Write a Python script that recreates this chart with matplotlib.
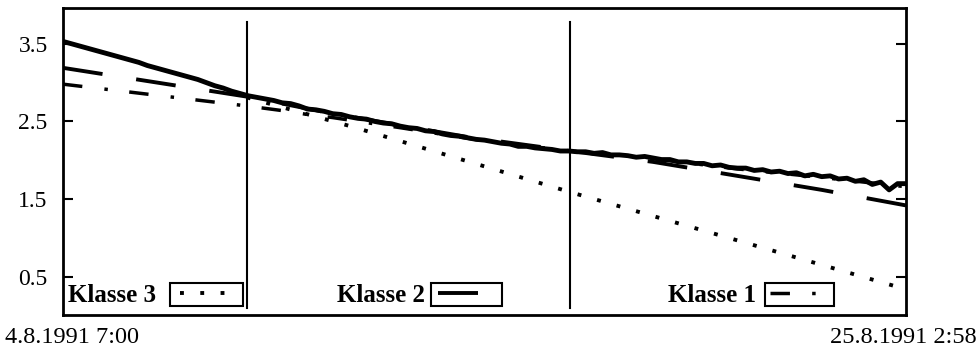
#!/usr/bin/env python3
# plot.py
# Measured curve with three class predictions (Klasse 1-3), saved to out.png

import numpy as np
import matplotlib
matplotlib.use("Agg")
import matplotlib.pyplot as plt
from matplotlib.patches import Rectangle

plt.rcParams['font.family'] = ['Liberation Serif', 'DejaVu Serif']
plt.rcParams['lines.scale_dashes'] = False

# Data (x in hours since 4.8.1991 7:00)
hours = np.arange(0, 501, 5)
measured = [3.53, 3.50, 3.47, 3.44, 3.41, 3.38, 3.35, 3.32, 3.29, 3.26,
            3.22, 3.19, 3.16, 3.13, 3.10, 3.07, 3.04, 3.00, 2.96, 2.93,
            2.89, 2.86, 2.83,
            2.81, 2.79, 2.77, 2.74, 2.73, 2.70, 2.66, 2.65, 2.63, 2.60,
            2.59, 2.56, 2.54, 2.53, 2.50, 2.48, 2.47, 2.44, 2.42, 2.41,
            2.38, 2.37, 2.34, 2.32, 2.31, 2.29, 2.27, 2.26, 2.24, 2.22,
            2.21, 2.18, 2.18, 2.16, 2.15, 2.14, 2.12, 2.12,
            2.11, 2.11, 2.09, 2.10, 2.07, 2.07, 2.06, 2.04, 2.05, 2.03,
            2.01, 2.01, 1.98, 1.98, 1.96, 1.96, 1.93, 1.94, 1.91, 1.90,
            1.90, 1.87, 1.88, 1.85, 1.86, 1.83, 1.84, 1.80, 1.82, 1.79,
            1.80, 1.76, 1.77, 1.73, 1.75, 1.69, 1.72, 1.62, 1.70, 1.70]

k1_hours = [0, 109, 130, 145, 160, 200, 250, 301, 350, 400, 450, 500]
k1_vals = [2.98, 2.70, 2.64, 2.59, 2.55, 2.42, 2.25, 2.12, 2.02, 1.89, 1.78, 1.66]

k2_hours = [0, 109, 158, 200, 240, 301, 350, 400, 450, 500]
k2_vals = [3.19, 2.82, 2.61, 2.45, 2.30, 2.12, 1.98, 1.80, 1.62, 1.42]

k3_hours = [109, 172, 301, 400, 500]
k3_vals = [2.81, 2.43, 1.59, 0.97, 0.34]

breaks = [109, 301]
yticks = [0.5, 1.5, 2.5, 3.5]
start_label = "4.8.1991 7:00"
end_label = "25.8.1991 2:58"

# line styles (dashes in points)
dot_style = (0, (2.8, 11.8))
dash_style = (0, (28.8, 24.5))
dashdot_style = (0, (14, 16, 2.5, 15.5))

fig = plt.figure(figsize=(9.79, 3.48), dpi=100)
ax = fig.add_axes([63 / 979, 33 / 348, 843 / 979, 307 / 348])

ax.plot(k3_hours, k3_vals, color='k', lw=2.8, linestyle=dot_style)
ax.plot(k2_hours, k2_vals, color='k', lw=2.8, linestyle=dash_style)
ax.plot(k1_hours, k1_vals, color='k', lw=2.5, linestyle=dashdot_style)
ax.plot(hours, measured, color='k', lw=3.5, solid_joinstyle='round')

for b in breaks:
    ax.axvline(b, ymin=0.023, ymax=0.954, color='k', lw=1.5)

ax.set_xlim(0, 500)
ax.set_ylim(0.01, 3.96)
ax.set_xticks([])
ax.set_yticks(yticks)
ax.set_yticklabels([str(v) for v in yticks])
ax.tick_params(axis='y', direction='in', length=7, width=1.5, right=True,
               labelsize=17, pad=11)
for s in ax.spines.values():
    s.set_linewidth(2)

# Date labels under both ends
fig.text(5 / 979, 5 / 348, start_label, fontsize=17.5, ha='left', va='baseline')
fig.text(977 / 979, 5 / 348, end_label, fontsize=17.5, ha='right', va='baseline')

# Legend boxes along the bottom
legend = [
    ("Klasse 3", 0.006, 0.127, 0.2135, 0.1388, 0.1934, dot_style, 2.8),
    ("Klasse 2", 0.325, 0.4365, 0.5208, 0.4448, 0.4923, dash_style, 2.8),
    ("Klasse 1", 0.7177, 0.8327, 0.9146, 0.8387, 0.8932, dashdot_style, 2.5),
]
for name, tx, bx0, bx1, sx0, sx1, style, lw in legend:
    ax.text(tx, 0.042, name, transform=ax.transAxes, fontsize=18,
            fontweight='bold', ha='left', va='baseline')
    ax.add_patch(Rectangle((bx0, 0.029), bx1 - bx0, 0.075,
                           transform=ax.transAxes, fill=False,
                           edgecolor='k', lw=1.5))
    ax.plot([sx0, sx1], [0.0717, 0.0717], transform=ax.transAxes,
            color='k', lw=lw, linestyle=style)

fig.savefig("out.png", dpi=100)
